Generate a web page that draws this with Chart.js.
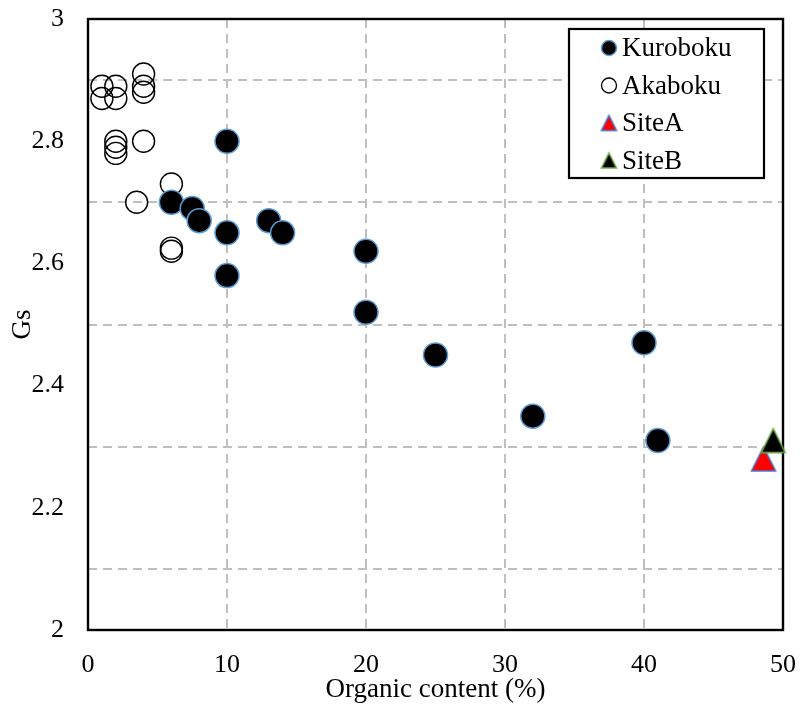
<!DOCTYPE html>
<html>
<head>
<meta charset="utf-8">
<script src="https://cdn.jsdelivr.net/npm/chart.js@4/dist/chart.umd.min.js"></script>
<style>
  html, body { margin: 0; padding: 0; background: #fff; }
  #wrap { width: 800px; height: 706px; position: relative; }
</style>
</head>
<body>
<div id="wrap"><canvas id="c" width="800" height="706"></canvas></div>
<script>
// Organic content (%) vs. specific gravity of soil particles (Gs)
const kurobokuX = [10, 6, 7.5, 8, 10, 10, 13, 14, 20, 20, 25, 32, 40, 41];
const kurobokuY = [2.80, 2.70, 2.69, 2.67, 2.65, 2.58, 2.67, 2.65, 2.62, 2.52, 2.45, 2.35, 2.47, 2.31];

const akabokuX = [1, 2, 1, 2, 4, 4, 4, 2, 2, 2, 4, 3.5, 6, 6, 6];
const akabokuY = [2.89, 2.89, 2.87, 2.87, 2.91, 2.89, 2.88, 2.80, 2.79, 2.78, 2.80, 2.70, 2.73, 2.625, 2.62];

const siteAX = [48.6];
const siteAY = [2.28];
const siteBX = [49.3];
const siteBY = [2.31];

const seriesNames = ['Kuroboku', 'Akaboku', 'SiteA', 'SiteB'];

const xTickLabels = ['0', '10', '20', '30', '40', '50'];
const yTickLabels = ['2', '2.2', '2.4', '2.6', '2.8', '3'];

const FONT = "'Liberation Serif', 'Times New Roman', serif";

function pts(xs, ys) { return xs.map((x, i) => ({ x: x, y: ys[i] })); }

// isosceles triangle marker (square bounding box)
function triangleMarker(size, fill, stroke, lw) {
  const pad = Math.ceil(lw) + 1;
  const cv = document.createElement('canvas');
  cv.width = size + pad * 2;
  cv.height = size + pad * 2;
  const g = cv.getContext('2d');
  g.beginPath();
  g.moveTo(pad + size / 2, pad);
  g.lineTo(pad + size, pad + size);
  g.lineTo(pad, pad + size);
  g.closePath();
  g.fillStyle = fill;
  g.fill();
  g.lineWidth = lw;
  g.strokeStyle = stroke;
  g.lineJoin = 'miter';
  g.stroke();
  return cv;
}

const triA = triangleMarker(24, '#ff0000', '#4472c4', 1.5);
const triB = triangleMarker(24, '#000000', '#70ad47', 1.5);
const triALeg = triangleMarker(15, '#ff0000', '#4472c4', 1.5);
const triBLeg = triangleMarker(15, '#000000', '#70ad47', 1.5);

// plot frame drawn on all four sides
const framePlugin = {
  id: 'frame',
  beforeDatasetsDraw(chart) {
    const a = chart.chartArea, ctx = chart.ctx;
    ctx.save();
    ctx.lineWidth = 2.4;
    ctx.strokeStyle = '#000';
    ctx.strokeRect(a.left, a.top, a.right - a.left, a.bottom - a.top);
    ctx.restore();
  }
};

// boxed legend inside the plot area, top right
const boxLegend = {
  id: 'boxLegend',
  afterDraw(chart) {
    const a = chart.chartArea, ctx = chart.ctx;
    const w = 195, h = 149;
    const x0 = a.right - 19 - w, y0 = a.top + 10;
    ctx.save();
    ctx.fillStyle = '#fff';
    ctx.fillRect(x0, y0, w, h);
    ctx.lineWidth = 2.2;
    ctx.strokeStyle = '#000';
    ctx.strokeRect(x0, y0, w, h);
    ctx.font = '27px ' + FONT;
    ctx.fillStyle = '#000';
    ctx.textBaseline = 'middle';
    ctx.textAlign = 'left';
    const mx = x0 + 40, tx = x0 + 53;
    seriesNames.forEach((name, i) => {
      const cy = y0 + 19 + i * 37.5;
      if (i === 0) {
        ctx.beginPath();
        ctx.arc(mx, cy, 7.5, 0, Math.PI * 2);
        ctx.fillStyle = '#000';
        ctx.fill();
        ctx.lineWidth = 1.5;
        ctx.strokeStyle = '#5b9bd5';
        ctx.stroke();
      } else if (i === 1) {
        ctx.beginPath();
        ctx.arc(mx, cy, 7.5, 0, Math.PI * 2);
        ctx.lineWidth = 1.3;
        ctx.strokeStyle = '#000';
        ctx.stroke();
      } else {
        const img = i === 2 ? triALeg : triBLeg;
        ctx.drawImage(img, mx - img.width / 2, cy - img.height / 2);
      }
      ctx.fillStyle = '#000';
      ctx.fillText(name, tx, cy + 1);
    });
    ctx.restore();
  }
};

const GRID = '#bfbfbf';

new Chart(document.getElementById('c'), {
  type: 'scatter',
  data: {
    datasets: [
      {
        label: seriesNames[0],
        data: pts(kurobokuX, kurobokuY),
        pointStyle: 'circle',
        pointRadius: 12,
        pointHoverRadius: 12,
        backgroundColor: '#000000',
        borderColor: '#5b9bd5',
        borderWidth: 1.5,
        order: 2,
        clip: false
      },
      {
        label: seriesNames[1],
        data: pts(akabokuX, akabokuY),
        pointStyle: 'circle',
        pointRadius: 11,
        pointHoverRadius: 11,
        backgroundColor: 'rgba(0,0,0,0)',
        borderColor: '#000000',
        borderWidth: 1.4,
        order: 3,
        clip: false
      },
      {
        label: seriesNames[2],
        data: pts(siteAX, siteAY),
        pointStyle: triA,
        pointRadius: 12,
        order: 1,
        clip: false
      },
      {
        label: seriesNames[3],
        data: pts(siteBX, siteBY),
        pointStyle: triB,
        pointRadius: 12,
        order: 0,
        clip: false
      }
    ]
  },
  options: {
    responsive: false,
    animation: false,
    events: [],
    layout: { padding: { top: 19, right: 17, left: 0, bottom: 0 } },
    plugins: {
      legend: { display: false },
      tooltip: { enabled: false }
    },
    scales: {
      x: {
        type: 'linear',
        min: 0,
        max: 50,
        afterFit(s) {
          s.height = 76;
          s.paddingLeft = 0;
          s.paddingRight = 0;
        },
        ticks: {
          stepSize: 10,
          font: { family: FONT, size: 26 },
          color: '#000',
          padding: 20,
          maxRotation: 0,
          callback: (v) => xTickLabels[Math.round(v / 10)]
        },
        grid: {
          drawTicks: false,
          lineWidth: 2,
          color: (c) => (c.tick && c.tick.value > 0 && c.tick.value < 50) ? GRID : 'rgba(0,0,0,0)'
        },
        border: { display: false, dash: [9, 6] },
        title: {
          display: true,
          text: 'Organic content (%)',
          font: { family: FONT, size: 27 },
          color: '#000',
          padding: { top: -6, bottom: 0 }
        }
      },
      y: {
        type: 'linear',
        min: 2,
        max: 3,
        afterFit(s) {
          s.width = 88;
          s.paddingTop = 0;
          s.paddingBottom = 0;
        },
        ticks: {
          stepSize: 0.1,
          font: { family: FONT, size: 26 },
          color: '#000',
          padding: 24,
          autoSkip: false,
          callback: (v) => {
            const k = Math.round(v * 10);
            return k % 2 === 0 ? yTickLabels[(k - 20) / 2] : '';
          }
        },
        grid: {
          drawTicks: false,
          lineWidth: 2,
          color: (c) => {
            if (!c.tick) return 'rgba(0,0,0,0)';
            const k = Math.round(c.tick.value * 10);
            return k % 2 === 1 ? GRID : 'rgba(0,0,0,0)';
          }
        },
        border: { display: false, dash: [9, 6] },
        title: {
          display: true,
          text: 'Gs',
          font: { family: FONT, size: 27 },
          color: '#000',
          padding: { top: 7, bottom: 0 }
        }
      }
    }
  },
  plugins: [framePlugin, boxLegend]
});
</script>
</body>
</html>
